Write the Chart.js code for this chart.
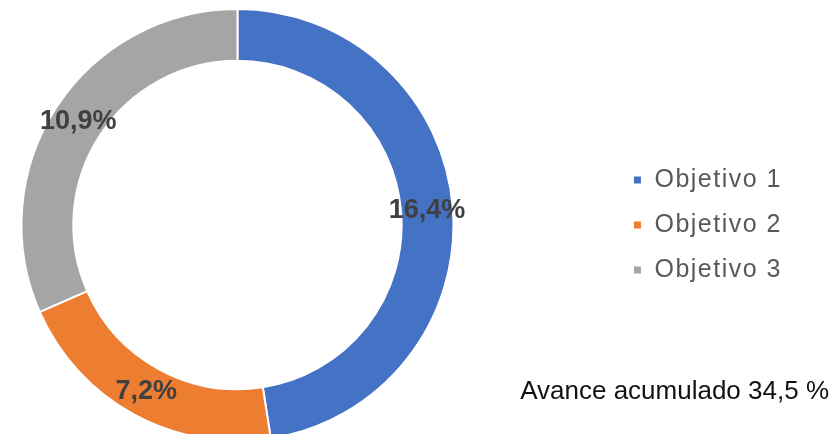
<!DOCTYPE html>
<html>
<head>
<meta charset="utf-8">
<script src="https://cdn.jsdelivr.net/npm/chart.js@4/dist/chart.umd.min.js"></script>
<style>
  html, body { margin: 0; padding: 0; background: #fff; }
  #wrap { width: 835px; height: 434px; position: relative; }
</style>
</head>
<body>
<div id="wrap"><canvas id="avanceChart"></canvas></div>
<script>
const categories = ['Objetivo 1', 'Objetivo 2', 'Objetivo 3'];
const values = [16.4, 7.2, 10.9];
const colors = ['#4472C4', '#ED7D31', '#A5A5A5'];
const noteLabel = 'Avance acumulado';

const legendGap = 138; // espacio vacío entre el anillo y la leyenda

const fmt = v => v.toFixed(1).replace('.', ',');

// la leyenda ocupa más ancho y se dibuja desplazada a la derecha
const legendShift = {
    id: 'legendShift',
    beforeInit(chart) {
        const fit = chart.legend.fit;
        chart.legend.fit = function () {
            fit.call(this);
            this.width += legendGap;
        };
    },
    afterLayout(chart) {
        chart.legend.left += legendGap;
    }
};

// leyenda con letras algo separadas, como en el original
const legendSpacing = {
    id: 'legendSpacing',
    beforeLayout(chart) { chart.ctx.letterSpacing = '1.5px'; },
    afterLayout(chart) { chart.ctx.letterSpacing = '0px'; },
    beforeDraw(chart) { chart.ctx.letterSpacing = '1.5px'; },
    beforeDatasetsDraw(chart) { chart.ctx.letterSpacing = '0px'; }
};

// etiquetas de porcentaje en el centro de cada arco
const sliceLabels = {
    id: 'sliceLabels',
    afterDatasetsDraw(chart) {
        const ctx = chart.ctx;
        const meta = chart.getDatasetMeta(0);
        ctx.save();
        ctx.font = 'bold 27px "Liberation Sans", Arial, sans-serif';
        ctx.fillStyle = '#404040';
        ctx.textAlign = 'center';
        ctx.textBaseline = 'middle';
        meta.data.forEach((arc, i) => {
            const p = arc.tooltipPosition();
            ctx.fillText(fmt(values[i]) + '%', p.x, p.y);
        });
        ctx.restore();
    }
};

// texto del avance total abajo a la derecha
const totalNote = {
    id: 'totalNote',
    afterDraw(chart) {
        const ctx = chart.ctx;
        const total = values.reduce((a, b) => a + b, 0);
        ctx.save();
        ctx.letterSpacing = '0px';
        ctx.font = '26px "Liberation Sans", Arial, sans-serif';
        ctx.fillStyle = '#111';
        ctx.textAlign = 'right';
        ctx.textBaseline = 'alphabetic';
        ctx.fillText(`${noteLabel} ${fmt(total)} %`, 829, 399);
        ctx.restore();
    }
};

new Chart(document.getElementById('avanceChart'), {
    type: 'doughnut',
    data: {
        labels: categories,
        datasets: [{
            data: values,
            backgroundColor: colors,
            borderColor: '#ffffff',
            borderWidth: 2
        }]
    },
    options: {
        responsive: true,
        maintainAspectRatio: false,
        animation: false,
        radius: 216,
        cutout: '76%',
        layout: {
            padding: { left: 0, right: 43, top: 16, bottom: 0 }
        },
        plugins: {
            legend: {
                position: 'right',
                labels: {
                    boxWidth: 9,
                    boxHeight: 9,
                    padding: 20,
                    color: '#595959',
                    font: { family: '"Liberation Sans", Arial, sans-serif', size: 25 }
                }
            },
            tooltip: { enabled: false }
        }
    },
    plugins: [legendShift, legendSpacing, sliceLabels, totalNote]
});
</script>
</body>
</html>
